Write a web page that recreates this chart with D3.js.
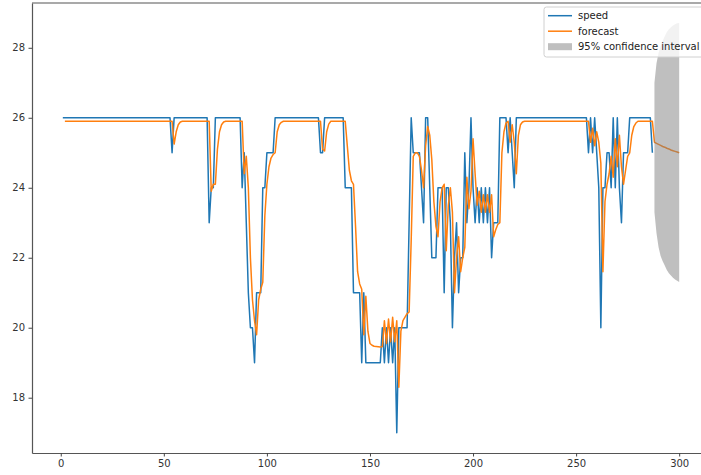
<!DOCTYPE html>
<html><head><meta charset="utf-8">
<script src="https://cdn.jsdelivr.net/npm/d3@7"></script>
<style>body{margin:0;background:#fff}svg{display:block}text{font-family:"DejaVu Sans",sans-serif}</style>
</head><body><svg id="c" width="701" height="475"></svg>
<script>
// speed series: vertices (index, value)
const speedX=[1,53,54,55,71,72,73,74,75,87,88,89,90,91,92,93,94,95,97,98,99,100,103,104,125,126,127,128,137,138,141,142,145,146,147,148,155,156,157,158,159,160,161,162,163,164,168,169,170,171,174,175,176,177,178,179,180,182,183,185,186,187,188,189,190,191,192,193,194,195,196,197,198,199,200,201,202,203,204,205,206,207,208,209,210,212,213,216,217,218,219,220,221,255,256,257,258,259,260,261,262,263,264,265,266,267,268,269,270,271,272,273,275,276,286,287];
const speedY=[26,26,25,26,26,23,24,24,26,26,24,25,23,21,20,20,19,21,21,24,24,25,25,26,26,25,25,26,26,24,24,21,21,19,21,19,19,20,19,20,19,20,19,20,17,20,20,23,26,25,25,24,23,26,26,24,22,22,24,24,21,24,24,23,20,22,23,21,22,22,25,23,24,26,24,23,24,23,24,23,24,23,24,22,23,23,26,26,25,26,25,24,26,26,25,26,25,26,25,24,20,24,24,25,25,24,26,24,26,24,23,25,25,26,26,25];
// forecast series: vertices (index, value)
const forecastX=[2,54,55,56,57,58,59,72,73,74,75,76,77,78,79,80,88,89,90,91,92,93,94,95,96,97,98,99,100,101,102,103,104,105,106,107,108,126,127,128,129,130,131,138,139,140,141,142,143,144,145,146,147,148,149,150,151,152,155,156,157,158,159,160,161,162,163,164,165,166,167,168,169,170,171,172,173,174,175,176,177,178,179,180,181,182,183,184,185,186,187,188,189,190,191,192,193,194,195,196,197,198,199,200,201,202,203,204,205,206,207,208,209,210,211,212,213,214,215,216,217,218,219,220,221,222,223,224,225,256,257,258,259,260,261,262,263,264,265,266,267,268,269,270,271,272,273,274,275,276,277,278,279,280,287,288,289,290,291,292,293,294,295,296,297,298,299,300];
const forecastY=[25.9,25.9,25.25,25.6,25.8,25.88,25.9,25.9,23.9,24.1,24.1,25.1,25.6,25.8,25.88,25.9,25.9,24.4,24.9,24.0,22.0,20.8,20.2,19.8,20.8,21.1,21.3,23.2,24.1,24.6,24.85,24.95,25.0,25.6,25.8,25.87,25.9,25.9,25.1,25.05,25.6,25.82,25.9,25.9,25.2,24.5,24.2,24.1,22.9,21.6,21.25,21.1,19.8,20.9,19.9,19.55,19.5,19.47,19.45,19.46,20.2,19.55,20.25,19.6,20.3,19.6,20.2,18.3,19.9,20.2,20.3,20.4,20.45,22.5,24.9,25.0,25.0,24.9,24.5,24.0,25.2,25.75,25.5,24.8,23.6,22.9,22.6,23.6,24.0,24.1,22.2,23.5,24.0,23.3,21.0,22.0,22.6,21.6,22.0,22.3,24.3,23.4,23.9,25.4,24.4,23.5,23.9,23.3,23.8,23.3,23.8,23.3,23.8,22.6,22.8,22.95,23.0,25.0,25.6,25.85,25.9,25.3,25.8,25.3,24.4,25.5,25.8,25.88,25.9,25.9,25.3,25.7,25.2,25.6,25.3,24.7,21.6,23.6,24.1,24.4,24.9,24.3,25.4,24.6,25.5,24.6,24.1,24.5,24.9,25.0,25.5,25.75,25.85,25.9,25.9,25.3,25.27,25.24,25.21,25.18,25.16,25.13,25.11,25.08,25.06,25.04,25.02,25.0];
// 95% confidence interval
const ciX=[288,289,290,291,292,293,294,295,296,297,298,299,300];
const ciLower=[23.3,22.7,22.3,22.05,21.9,21.78,21.65,21.56,21.49,21.43,21.38,21.34,21.31];
const ciUpper=[27.0,27.56,27.85,28.05,28.2,28.33,28.45,28.53,28.59,28.64,28.67,28.7,28.71];
const xTicks=[0,50,100,150,200,250,300];
const yTicks=[18,20,22,24,26,28];
const legendLabels=["speed","forecast","95% confidence interval"];
const colors={speed:"#1f77b4",forecast:"#ff7f0e",ci:"#808080"};

const svg=d3.select("#c");
const L=32,R=710,T=3,B=453;
const x=d3.scaleLinear().domain([-13.95,314.95]).range([L,R]);
const y=d3.scaleLinear().domain([16.42,29.28]).range([B,T]);

svg.append("defs").append("clipPath").attr("id","clip").append("rect")
  .attr("x",L).attr("y",T).attr("width",R-L).attr("height",B-T);
const plot=svg.append("g").attr("clip-path","url(#clip)");

const line=d3.line().x(d=>x(d[0])).y(d=>y(d[1]));
const speedData=speedX.map((v,i)=>[v,speedY[i]]);
const fcData=forecastX.map((v,i)=>[v,forecastY[i]]);
plot.append("path").datum(speedData).attr("d",line).attr("fill","none")
  .attr("stroke",colors.speed).attr("stroke-width",1.5).attr("stroke-linejoin","round");
plot.append("path").datum(fcData).attr("d",line).attr("fill","none")
  .attr("stroke",colors.forecast).attr("stroke-width",1.5).attr("stroke-linejoin","round");
const area=d3.area().x(d=>x(d[0])).y0(d=>y(d[1])).y1(d=>y(d[2]));
plot.append("path").datum(ciX.map((v,i)=>[v,ciLower[i],ciUpper[i]])).attr("d",area)
  .attr("fill",colors.ci).attr("fill-opacity",0.5);

// axes
const xa=svg.append("g").attr("transform",`translate(0,${B})`)
  .call(d3.axisBottom(x).tickValues(xTicks).tickSize(3.5).tickPadding(3.5).tickSizeOuter(0));
const ya=svg.append("g").attr("transform",`translate(${L},0)`)
  .call(d3.axisLeft(y).tickValues(yTicks).tickSize(3.5).tickPadding(3.5).tickSizeOuter(0));
[xa,ya].forEach(g=>{
  g.attr("font-family","DejaVu Sans").attr("font-size",10);
  g.selectAll("text").attr("fill","#333");
  g.selectAll("line").attr("stroke","#444").attr("stroke-width",1);
  g.select(".domain").attr("stroke","#555").attr("stroke-width",1.2);
});
svg.append("line").attr("x1",L).attr("x2",R).attr("y1",T).attr("y2",T)
  .attr("stroke","#555").attr("stroke-width",1.2);
svg.append("line").attr("x1",R).attr("x2",R).attr("y1",T).attr("y2",B)
  .attr("stroke","#555").attr("stroke-width",1.2);

// legend
const lg=svg.append("g");
lg.append("rect").attr("x",544).attr("y",7).attr("width",200).attr("height",50).attr("rx",2.5)
  .attr("fill","#fff").attr("fill-opacity",0.8).attr("stroke","#d0d0d0").attr("stroke-width",1);
const ly=[15.7,31.2,46.7];
lg.append("line").attr("x1",548).attr("x2",572).attr("y1",ly[0]).attr("y2",ly[0]).attr("stroke",colors.speed).attr("stroke-width",1.5);
lg.append("line").attr("x1",548).attr("x2",572).attr("y1",ly[1]).attr("y2",ly[1]).attr("stroke",colors.forecast).attr("stroke-width",1.5);
lg.append("rect").attr("x",548).attr("y",ly[2]-3.5).attr("width",24).attr("height",7).attr("fill",colors.ci).attr("fill-opacity",0.5);
legendLabels.forEach((t,i)=>{
  lg.append("text").attr("x",578).attr("y",ly[i]).attr("dy","0.35em").attr("font-size",10).attr("fill","#222").text(t);
});
</script></body></html>
